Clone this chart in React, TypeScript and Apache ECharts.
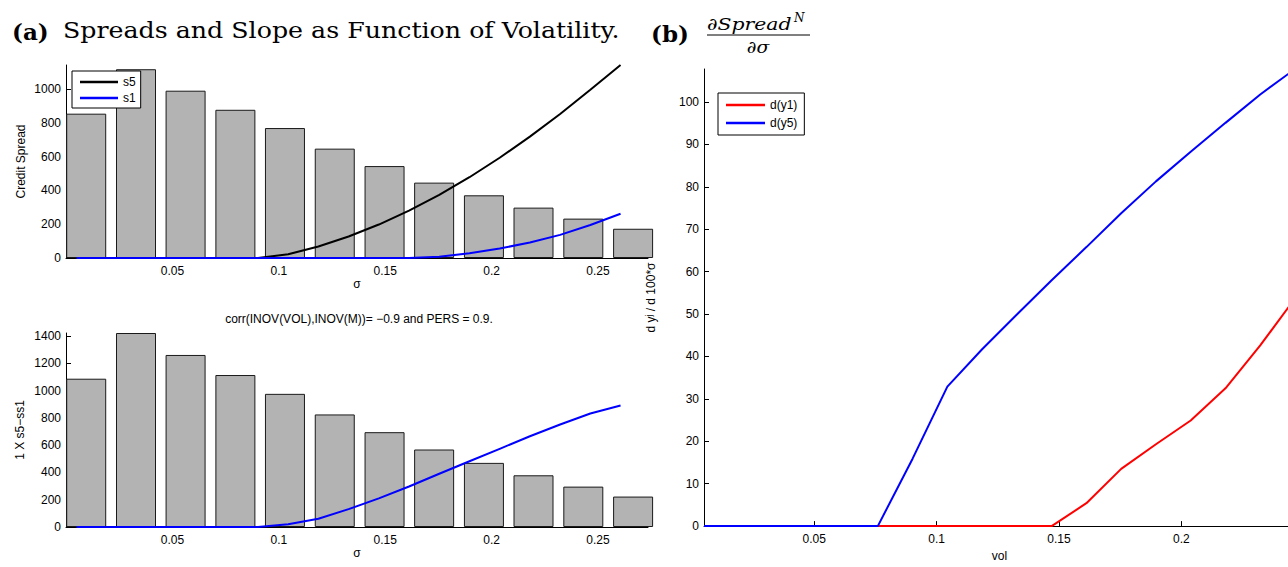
import React, { useEffect, useRef } from "react";
import * as echarts from "echarts";

// ---------- data ----------
const barX = [0.0095, 0.0329, 0.0562, 0.0796, 0.1029, 0.1263, 0.1497, 0.173, 0.1964, 0.2197, 0.2431, 0.2665];
const spreadBars = [854, 1117, 990, 877, 769, 647, 544, 446, 371, 298, 233, 173];
const diffBars = [1087, 1422, 1261, 1114, 976, 825, 695, 568, 470, 379, 296, 223];

const volGrid = [0.005, 0.0192, 0.0334, 0.0476, 0.0618, 0.076, 0.0902, 0.1044, 0.1186, 0.1328, 0.147, 0.1612, 0.1754, 0.1896, 0.2038, 0.218, 0.2322, 0.2464, 0.2606];
const s5 = [0, 0, 0, 0, 0, 0, 0, 22, 68, 127, 198, 280, 373, 478, 593, 718, 852, 996, 1142];
const s1 = [0, 0, 0, 0, 0, 0, 0, 0, 0, 0, 0, 0, 8, 28, 56, 92, 137, 195, 262];
const s5MinusS1 = [0, 0, 0, 0, 0, 0, 0, 20, 61, 131, 210, 297, 390, 482, 573, 665, 751, 832, 890];

const dVol = [0.005, 0.0192, 0.0334, 0.0476, 0.0618, 0.076, 0.0902, 0.1044, 0.1186, 0.1328, 0.147, 0.1612, 0.1754, 0.1896, 0.2038, 0.218, 0.2322, 0.2464];
const dy1 = [0, 0, 0, 0, 0, 0, 0, 0, 0, 0, 0, 5.4, 13.5, 19.3, 24.9, 32.5, 42.6, 53.7];
const dy5 = [0, 0, 0, 0, 0, 0, 15.9, 32.9, 41.7, 49.9, 58.0, 65.8, 73.8, 81.3, 88.3, 95.1, 101.8, 107.8];

const xTicksLeft = [0.05, 0.1, 0.15, 0.2, 0.25];
const xTicksRight = [0.05, 0.1, 0.15, 0.2];
const yTicksTop = [0, 200, 400, 600, 800, 1000];
const yTicksBottom = [0, 200, 400, 600, 800, 1000, 1200, 1400];
const yTicksRight = [0, 10, 20, 30, 40, 50, 60, 70, 80, 90, 100];

const titleA = "Spreads and Slope as Function of Volatility.";
const titleBottom = "corr(INOV(VOL),INOV(M))= \u22120.9 and PERS = 0.9.";

// ---------- styling ----------
const SANS = "Liberation Sans, Arial, sans-serif";
const SERIF = "DejaVu Serif, serif";

const pairs = (xs: number[], ys: number[]) => xs.map((x, i) => [x, ys[i]]);
const plain = (v: number) => String(v);

function xAxis(gridIndex: number, min: number, max: number, ticks: number[], name: string, nameGap: number) {
  return {
    type: "value",
    gridIndex,
    min,
    max,
    name,
    nameLocation: "middle",
    nameGap,
    nameTextStyle: { color: "#000", fontSize: 12, fontFamily: SANS },
    axisLine: { show: true, onZero: false, lineStyle: { color: "#000", width: 1 } },
    axisTick: { show: true, inside: true, length: 5, customValues: ticks, lineStyle: { color: "#000" } },
    axisLabel: { customValues: ticks, margin: 7, color: "#000", fontSize: 12, fontFamily: SANS, formatter: plain },
    splitLine: { show: false },
  };
}

function yAxis(gridIndex: number, max: number, ticks: number[], name: string, nameGap: number) {
  return {
    type: "value",
    gridIndex,
    min: 0,
    max,
    name,
    nameLocation: "middle",
    nameGap,
    nameTextStyle: { color: "#000", fontSize: 12, fontFamily: SANS },
    axisLine: { show: true, onZero: false, lineStyle: { color: "#000", width: 1 } },
    axisTick: { show: true, inside: true, length: 5, customValues: ticks, lineStyle: { color: "#000" } },
    axisLabel: { customValues: ticks, margin: 5, color: "#000", fontSize: 12, fontFamily: SANS, formatter: plain },
    splitLine: { show: false },
  };
}

const lineSeries = (name: string, xi: number, data: number[][], color: string) => ({
  name,
  type: "line",
  xAxisIndex: xi,
  yAxisIndex: xi,
  data,
  showSymbol: false,
  symbol: "none",
  clip: true,
  itemStyle: { color },
  lineStyle: { color, width: 2 },
  z: 5,
});

const barSeries = (name: string, xi: number, data: number[][]) => ({
  name,
  type: "bar",
  xAxisIndex: xi,
  yAxisIndex: xi,
  data,
  barWidth: 40,
  clip: true,
  itemStyle: { color: "#b3b3b3", borderColor: "#1a1a1a", borderWidth: 1 },
  z: 2,
});

const legendCommon = {
  orient: "vertical",
  icon: "rect",
  itemHeight: 2.5,
  backgroundColor: "#fff",
  borderColor: "#000",
  borderWidth: 1,
  borderRadius: 0,
  textStyle: { color: "#000", fontSize: 12, fontFamily: SANS, lineHeight: 14 },
  selectedMode: false,
};

const option = {
  animation: false,
  backgroundColor: "#fff",
  textStyle: { fontFamily: SANS },
  grid: [
    { left: 66, top: 65, width: 582, height: 193 },
    { left: 66, top: 333, width: 582, height: 194 },
    { left: 704, top: 69, width: 591, height: 464 },
  ],
  xAxis: [
    xAxis(0, 0, 0.2735, xTicksLeft, "\u03c3", 19),
    xAxis(1, 0, 0.2735, xTicksLeft, "\u03c3", 20),
    xAxis(2, 0.005, 0.2464, xTicksRight, "vol", 22),
  ],
  yAxis: [
    yAxis(0, 1142, yTicksTop, "Credit Spread", 39),
    yAxis(1, 1422, yTicksBottom, "1 X s5\u2212ss1", 40),
    yAxis(2, 107.8, yTicksRight, "d y\u02b2 / d 100*\u03c3", 47),
  ],
  legend: [
    {
      ...legendCommon,
      data: ["s5", "s1"],
      left: 72,
      top: 71,
      padding: [4, 5, 3, 8],
      itemWidth: 38,
      itemGap: 2,
    },
    {
      ...legendCommon,
      data: ["d(y1)", "d(y5)"],
      left: 718,
      top: 93,
      padding: [5, 7, 5, 8],
      itemWidth: 39,
      itemGap: 4,
    },
  ],
  series: [
    barSeries("Credit spread bars", 0, pairs(barX, spreadBars)),
    lineSeries("s5", 0, pairs(volGrid, s5), "#000000"),
    lineSeries("s1", 0, pairs(volGrid, s1), "#0000ff"),
    barSeries("Difference bars", 1, pairs(barX, diffBars)),
    lineSeries("1 X s5\u2212ss1", 1, pairs(volGrid, s5MinusS1), "#0000ff"),
    lineSeries("d(y1)", 2, pairs(dVol, dy1), "#ff0000"),
    lineSeries("d(y5)", 2, pairs(dVol, dy5), "#0000ff"),
  ],
  graphic: [
    { type: "text", x: 12, y: 31, style: { text: "(a)", font: `bold 23px ${SERIF}`, fill: "#000", verticalAlign: "middle" } },
    { type: "text", x: 63, y: 31, scaleX: 1.149, style: { text: titleA, font: `22px ${SERIF}`, fill: "#000", verticalAlign: "middle" } },
    { type: "text", x: 651, y: 33, style: { text: "(b)", font: `bold 23px ${SERIF}`, fill: "#000", verticalAlign: "middle" } },
    { type: "text", x: 707, y: 24, scaleX: 1.2, style: { text: "\u2202Spread", font: `italic 17px ${SERIF}`, fill: "#000", verticalAlign: "middle" } },
    { type: "text", x: 794, y: 18, style: { text: "N", font: `italic 12px ${SERIF}`, fill: "#000", verticalAlign: "middle" } },
    { type: "line", shape: { x1: 707, y1: 35, x2: 810, y2: 35 }, style: { stroke: "#000", lineWidth: 1 } },
    { type: "text", x: 758, y: 47, scaleX: 1.1, style: { text: "\u2202\u03c3", font: `italic 17px ${SERIF}`, fill: "#000", align: "center", verticalAlign: "middle" } },
    { type: "text", x: 359, y: 319, style: { text: titleBottom, font: `12px ${SANS}`, fill: "#000", align: "center", verticalAlign: "middle" } },
  ],
};

export default function App() {
  const ref = useRef<HTMLDivElement>(null);
  useEffect(() => {
    if (!ref.current) return;
    const chart = echarts.init(ref.current, null, { renderer: "svg" });
    chart.setOption(option as any);
    return () => chart.dispose();
  }, []);
  return (
    <div style={{ position: "absolute", left: 0, top: 0, width: 1288, height: 567, overflow: "hidden", background: "#fff" }}>
      <div ref={ref} style={{ width: 1296, height: 567 }} />
    </div>
  );
}
